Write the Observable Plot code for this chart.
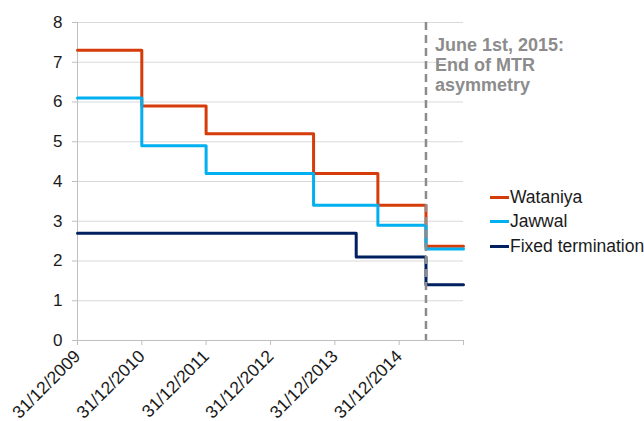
<!DOCTYPE html>
<html>
<head>
<meta charset="utf-8">
<script src="https://cdn.jsdelivr.net/npm/d3@7"></script>
<script src="https://cdn.jsdelivr.net/npm/@observablehq/plot@0.6"></script>
<style>
  body { margin: 0; background: #fff; font-family: "Liberation Sans", Arial, sans-serif; }
  #wrap { position: relative; width: 644px; height: 421px; overflow: hidden; }
  #legend { position: absolute; left: 490px; top: 185px; font-size: 17.5px; color: #1a1a1a; }
  .row { display: flex; align-items: center; height: 24.5px; white-space: nowrap; }
  .sw { width: 19px; height: 3px; margin-right: 1px; }
</style>
</head>
<body>
<div id="wrap"><div id="legend"></div></div>
<script>
const seriesNames = ["Wataniya", "Jawwal", "Fixed termination"];
const seriesColors = ["#d63c0a", "#00b0f0", "#002060"];

const wataniyaDates = ["2009-12-31", "2010-12-31", "2011-12-31", "2013-09-01", "2014-09-01", "2015-06-01", "2015-12-31"];
const wataniyaValues = [7.3, 5.9, 5.2, 4.2, 3.4, 2.37, 2.37];

const jawwalDates = ["2009-12-31", "2010-12-31", "2011-12-31", "2013-09-01", "2014-09-01", "2015-06-01", "2015-12-31"];
const jawwalValues = [6.1, 4.9, 4.2, 3.4, 2.9, 2.3, 2.3];

const fixedDates = ["2009-12-31", "2014-05-01", "2015-06-01", "2015-12-31"];
const fixedValues = [2.7, 2.1, 1.4, 1.4];

const xTickDates = ["2009-12-31", "2010-12-31", "2011-12-31", "2012-12-31", "2013-12-31", "2014-12-31", "2015-12-31"];
const yTicks = [0, 1, 2, 3, 4, 5, 6, 7, 8];

const mtrDateStr = "2015-06-01";
const annotationText = "June 1st, 2015:\nEnd of MTR\nasymmetry";

const parse = d3.utcParse("%Y-%m-%d");
const fmt = d3.utcFormat("%d/%m/%Y");

function build(name, dates, values) {
  return dates.map((d, i) => ({ series: name, date: parse(d), value: values[i] }));
}
const data = [
  ...build(seriesNames[0], wataniyaDates, wataniyaValues),
  ...build(seriesNames[1], jawwalDates, jawwalValues),
  ...build(seriesNames[2], fixedDates, fixedValues)
];
const xTicks = xTickDates.map(parse);
const xStart = xTicks[0], xEnd = xTicks[xTicks.length - 1];
const mtrDate = parse(mtrDateStr);

const chart = Plot.plot({
  width: 644,
  height: 421,
  marginLeft: 77,
  marginRight: 181,
  marginTop: 22,
  marginBottom: 81,
  style: { fontFamily: "'Liberation Sans', Arial, sans-serif", fontSize: "16px", color: "#1a1a1a", background: "#fff" },
  x: { type: "utc", domain: [xStart, xEnd] },
  y: { domain: [0, 8] },
  color: { domain: seriesNames, range: seriesColors },
  marks: [
    Plot.gridY(yTicks, { stroke: "#d9d9d9", strokeOpacity: 1, strokeWidth: 1 }),
    Plot.ruleX([xStart], { stroke: "#bfbfbf", strokeWidth: 1 }),
    Plot.ruleY([0], { stroke: "#bfbfbf", strokeWidth: 1 }),
    Plot.axisY(yTicks, { tickSize: 5, tickPadding: 10, stroke: "#bfbfbf", fill: "#1a1a1a", fontSize: 17, label: null, tickFormat: d => String(d) }),
    Plot.axisX(xTicks, { tickSize: 5, tickPadding: 8, tickRotate: -45, stroke: "#bfbfbf", fill: "#1a1a1a", fontSize: 17.5, label: null,
      tickFormat: d => (+d === +xEnd ? "" : fmt(d)) }),
    Plot.line(data, { x: "date", y: "value", z: "series", stroke: "series", strokeWidth: 3, curve: "step-after" }),
    Plot.ruleX([mtrDate], { stroke: "#8c8c8c", strokeWidth: 2.5, strokeDasharray: "8,5" }),
    Plot.text([annotationText], { x: () => mtrDate, y: () => 8, text: d => d, dx: 9, dy: 14, textAnchor: "start", lineAnchor: "top",
      lineHeight: 1.11, fontWeight: "bold", fill: "#8c8c8c", fontSize: 18 })
  ]
});
document.getElementById("wrap").prepend(chart);

const legend = document.getElementById("legend");
seriesNames.forEach((n, i) => {
  const row = document.createElement("div");
  row.className = "row";
  const sw = document.createElement("div");
  sw.className = "sw";
  sw.style.background = seriesColors[i];
  const t = document.createElement("span");
  t.textContent = n;
  row.appendChild(sw);
  row.appendChild(t);
  legend.appendChild(row);
});
</script>
</body>
</html>
